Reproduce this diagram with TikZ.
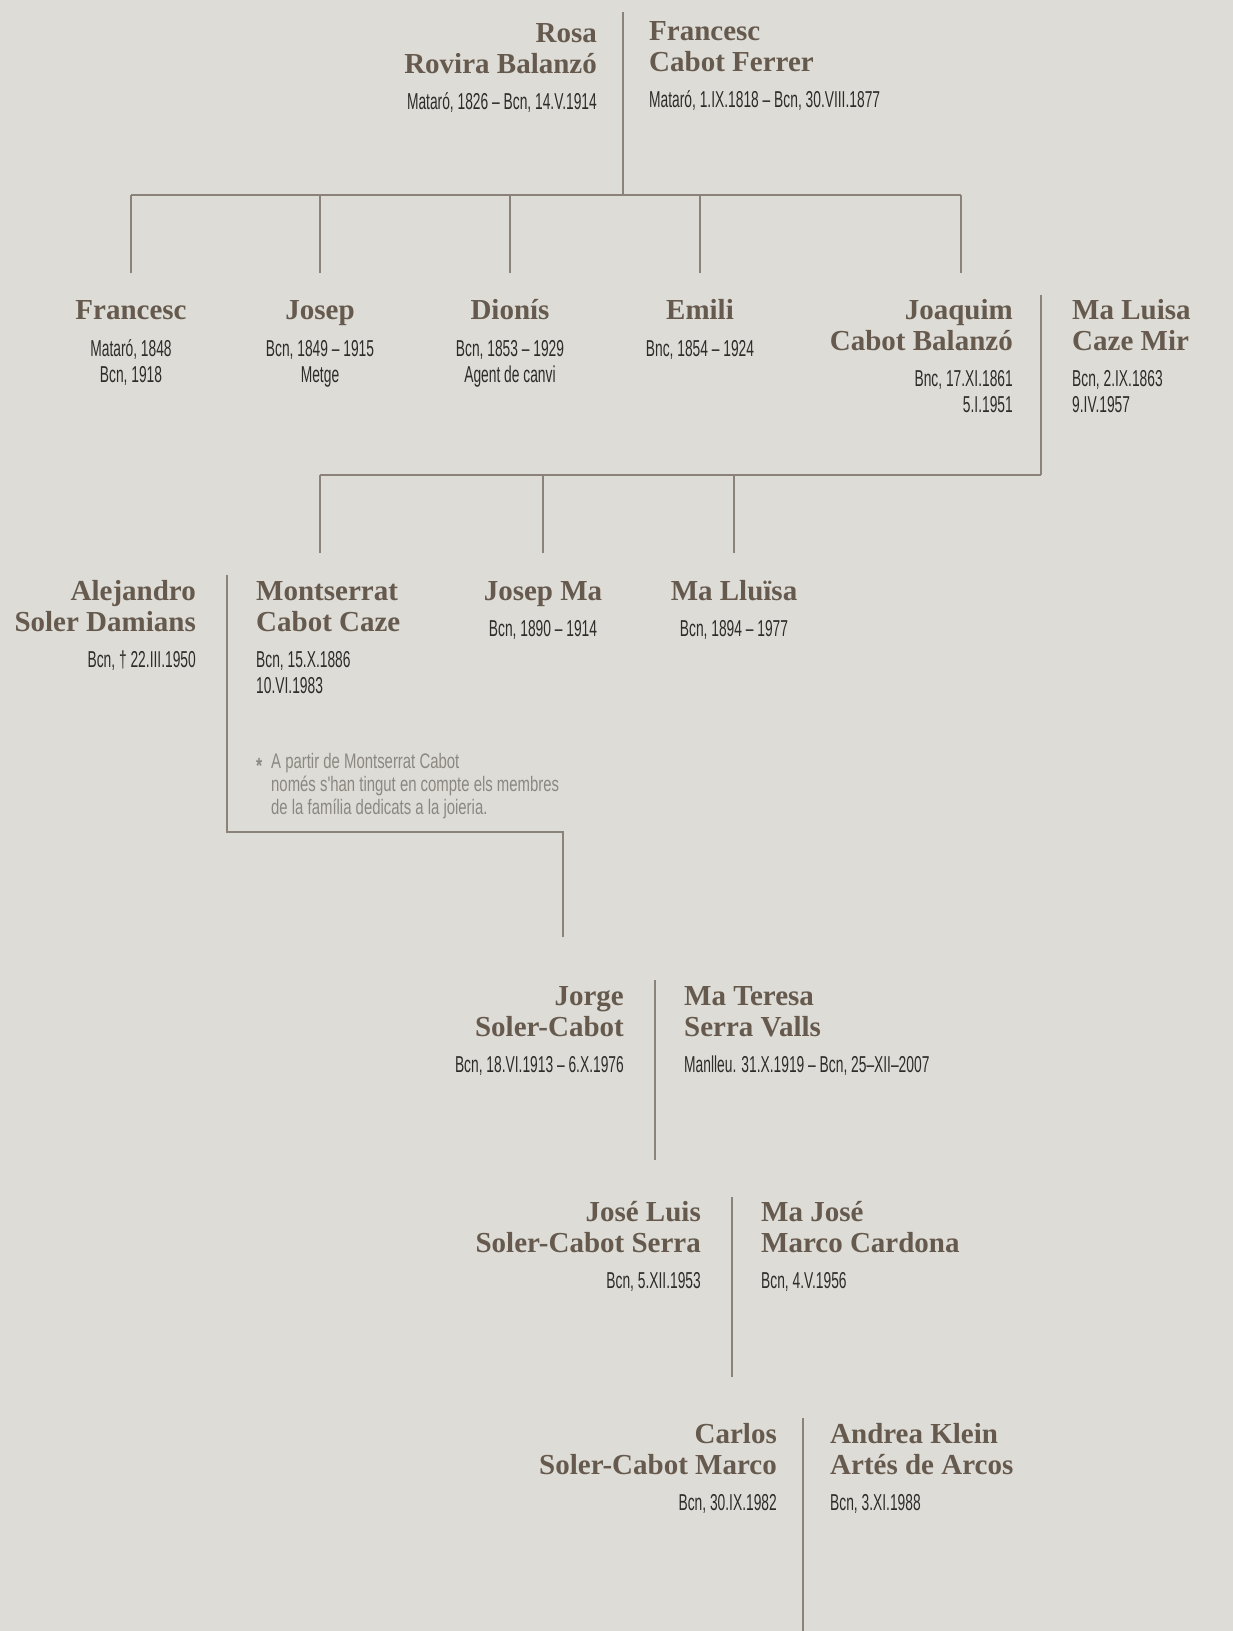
\documentclass[tikz,border=0pt]{standalone}
\usepackage{fontspec}
\setmainfont{Liberation Serif}
\newfontfamily\namefont{Liberation Serif}
\newfontfamily\datefont[FakeStretch=0.6]{Liberation Sans}
\newfontfamily\notefont[FakeStretch=0.71]{Liberation Sans}
\usepackage{xcolor}
\usepackage{tikz}
\usetikzlibrary{calc}
\definecolor{paper}{HTML}{DDDCD6}
\definecolor{namec}{HTML}{665A4E}
\definecolor{datec}{HTML}{2E2B29}
\definecolor{notec}{HTML}{8C8781}
\definecolor{linec}{HTML}{8B8279}
% multi-line nodes sit on the baseline of their last line
\tikzset{
  link/.style={draw=linec, line width=1.4pt},
  nameR/.style={anchor=base east, align=right, inner sep=0pt, text=namec,
    font=\namefont\bfseries\fontsize{29}{31}\selectfont},
  nameL/.style={nameR, anchor=base west, align=left},
  nameC/.style={nameR, anchor=base, align=center},
  dateR/.style={anchor=base east, align=right, inner sep=0pt, text=datec,
    font=\datefont\fontsize{23}{26}\selectfont},
  dateL/.style={dateR, anchor=base west, align=left},
  dateC/.style={dateR, anchor=base, align=center},
  note/.style={anchor=base west, align=left, inner sep=0pt, text=notec,
    font=\notefont\fontsize{21}{23}\selectfont}
}

\begin{document}
\begin{tikzpicture}[x=1pt,y=-1pt]
  \fill[paper] (0,0) rectangle (1233,1631);
  \useasboundingbox (0,0) rectangle (1233,1631);

  % first couple
  \node[nameR] (rosa) at (597,73) {Rosa\\Rovira Balanzó};
  \node[dateR] (rosa-d) at (597,109) {Mataró, 1826 – Bcn, 14.V.1914};
  \node[nameL] (francesc1) at (649,71) {Francesc\\Cabot Ferrer};
  \node[dateL] (francesc1-d) at (649,107) {Mataró, 1.IX.1818 – Bcn, 30.VIII.1877};

  \coordinate (c1-top) at (623,12);
  \coordinate (c1-bot) at (623,195);
  \draw[link] (c1-top) -- (c1-bot);
  \foreach \n/\x in {francesc/131,josep/320,dionis/510,emili/700,joaquim/961}{
    \coordinate (\n-up) at (\x,195);
    \coordinate (\n-dn) at (\x,273);
    \draw[link] (\n-up) -- (\n-dn);
  }
  \draw[link] (francesc-up) -- (joaquim-up);

  % children
  \node[nameC] (francesc) at (131,319) {Francesc};
  \node[dateC] (francesc-d) at (131,382) {Mataró, 1848\\Bcn, 1918};
  \node[nameC] (josep) at (320,319) {Josep};
  \node[dateC] (josep-d) at (320,382) {Bcn, 1849 – 1915\\Metge};
  \node[nameC] (dionis) at (510,319) {Dionís};
  \node[dateC] (dionis-d) at (510,382) {Bcn, 1853 – 1929\\Agent de canvi};
  \node[nameC] (emili) at (700,319) {Emili};
  \node[dateC] (emili-d) at (700,356) {Bnc, 1854 – 1924};
  \node[nameR] (joaquim) at (1013,350) {Joaquim\\Cabot Balanzó};
  \node[dateR] (joaquim-d) at (1013,412) {Bnc, 17.XI.1861\\5.I.1951};
  \node[nameL] (luisa) at (1072,350) {Ma Luisa\\Caze Mir};
  \node[dateL] (luisa-d) at (1072,412) {Bcn, 2.IX.1863\\9.IV.1957};

  \coordinate (c2-top) at (1041,295);
  \coordinate (c2-bot) at (1041,475);
  \draw[link] (c2-top) -- (c2-bot);
  \foreach \n/\x in {montse/320,josepma/543,lluisa/734}{
    \coordinate (\n-up) at (\x,475);
    \coordinate (\n-dn) at (\x,553);
    \draw[link] (\n-up) -- (\n-dn);
  }
  \draw[link] (montse-up) -- (c2-bot);

  % grandchildren
  \node[nameR] (alejandro) at (196,631) {Alejandro\\Soler Damians};
  \node[dateR] (alejandro-d) at (196,667) {Bcn, † 22.III.1950};
  \node[nameL] (montse) at (256,631) {Montserrat\\Cabot Caze};
  \node[dateL] (montse-d) at (256,693) {Bcn, 15.X.1886\\10.VI.1983};
  \node[nameC] (josepma) at (543,600) {Josep Ma};
  \node[dateC] (josepma-d) at (543,636) {Bcn, 1890 – 1914};
  \node[nameC] (lluisa) at (734,600) {Ma Lluïsa};
  \node[dateC] (lluisa-d) at (734,636) {Bcn, 1894 – 1977};

  \node[note, font=\notefont\bfseries\fontsize{22}{23}\selectfont] (star) at (256,773) {*};
  \node[note] (footnote) at (271,814) {A partir de Montserrat Cabot\\només s'han tingut en compte els membres\\de la família dedicats a la joieria.};

  \coordinate (c3-top) at (227,575);
  \coordinate (c3-mid) at (227,832);
  \coordinate (c3-turn) at (563,832);
  \coordinate (c3-bot) at (563,937);
  \draw[link] (c3-top) -- (c3-mid) -- (c3-turn) -- (c3-bot);

  % Jorge
  \node[nameR] (jorge) at (624,1036) {Jorge\\Soler-Cabot};
  \node[dateR] (jorge-d) at (624,1072) {Bcn, 18.VI.1913 – 6.X.1976};
  \node[nameL] (teresa) at (684,1036) {Ma Teresa\\Serra Valls};
  \node[dateL] (teresa-d) at (684,1072) {Manlleu. 31.X.1919 – Bcn, 25–XII–2007};
  \coordinate (c4-top) at (655,980);
  \coordinate (c4-bot) at (655,1160);
  \draw[link] (c4-top) -- (c4-bot);

  % Jose Luis
  \node[nameR] (joseluis) at (701,1252) {José Luis\\Soler-Cabot Serra};
  \node[dateR] (joseluis-d) at (701,1288) {Bcn, 5.XII.1953};
  \node[nameL] (majose) at (761,1252) {Ma José\\Marco Cardona};
  \node[dateL] (majose-d) at (761,1288) {Bcn, 4.V.1956};
  \coordinate (c5-top) at (732,1197);
  \coordinate (c5-bot) at (732,1377);
  \draw[link] (c5-top) -- (c5-bot);

  % Carlos
  \node[nameR] (carlos) at (777,1474) {Carlos\\Soler-Cabot Marco};
  \node[dateR] (carlos-d) at (777,1510) {Bcn, 30.IX.1982};
  \node[nameL] (andrea) at (830,1474) {Andrea Klein\\Artés de Arcos};
  \node[dateL] (andrea-d) at (830,1510) {Bcn, 3.XI.1988};
  \coordinate (c6-top) at (803,1418);
  \coordinate (c6-bot) at (803,1631);
  \draw[link] (c6-top) -- (c6-bot);
\end{tikzpicture}
\end{document}
